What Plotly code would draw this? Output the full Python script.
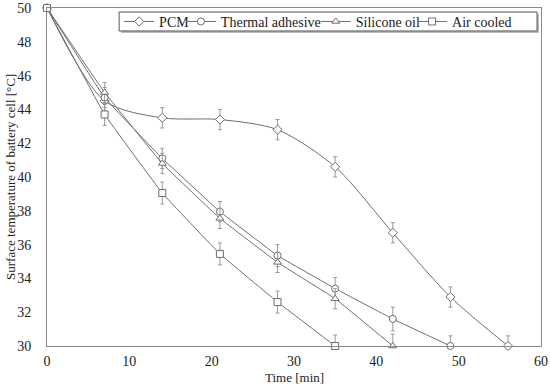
import plotly.graph_objects as go

time_min = [0, 7, 14, 21, 28, 35, 42, 49, 56]

pcm = [50, 44.5, 43.5, 43.4, 42.8, 40.6, 36.7, 32.9, 30.0]
thermal = [50, 44.7, 41.1, 37.95, 35.35, 33.4, 31.6, 30.0]
silicone = [50, 45.0, 40.8, 37.55, 34.95, 32.8, 30.0]
air = [50, 43.7, 39.05, 35.45, 32.6, 30.0]

pcm_err = [0, 0.6, 0.6, 0.6, 0.6, 0.6, 0.6, 0.6, 0.6]
pcm_err_minus = [0, 0.6, 0.6, 0.6, 0.6, 0.6, 0.6, 0.6, 0]
thermal_err = [0, 0.6, 0.6, 0.6, 0.65, 0.65, 0.7, 0.6]
thermal_err_minus = [0, 0.6, 0.6, 0.6, 0.65, 0.65, 0.7, 0]
silicone_err = [0, 0.6, 0.6, 0.6, 0.6, 0.6, 0.7]
silicone_err_minus = [0, 0.6, 0.6, 0.6, 0.6, 0.6, 0]
air_err = [0, 0.65, 0.65, 0.65, 0.65, 0.65]
air_err_minus = [0, 0.65, 0.65, 0.65, 0.65, 0]

series = [
    ("PCM", pcm, pcm_err, pcm_err_minus, "diamond", 7, 0.8, "legend", 0.146),
    ("Thermal adhesive", thermal, thermal_err, thermal_err_minus, "circle", 7, 0.2, "legend2", 0.271),
    ("Silicone oil", silicone, silicone_err, silicone_err_minus, "triangle-up", 7, 0.2, "legend3", 0.544),
    ("Air cooled", air, air_err, air_err_minus, "square", 7, 0.2, "legend4", 0.739),
]

LINE = "#6e6e6e"
FONT = "'Liberation Serif', 'Times New Roman', 'DejaVu Serif', serif"

fig = go.Figure()
legends = {}
for name, ys, e, em, sym, sz, sm, lg, lx in series:
    fig.add_trace(go.Scatter(
        x=time_min[:len(ys)], y=ys, name=name, mode="lines+markers",
        line=dict(color=LINE, width=1, shape="spline", smoothing=sm),
        marker=dict(symbol=sym, size=sz, color="white",
                    line=dict(color=LINE, width=1)),
        error_y=dict(type="data", array=e, arrayminus=em, symmetric=False,
                     color="#9a9a9a", thickness=1, width=2),
        cliponaxis=False, legend=lg, showlegend=True,
    ))
    legends[lg] = dict(x=lx, y=0.959, xanchor="left", yanchor="middle",
                       orientation="h", bgcolor="rgba(0,0,0,0)", borderwidth=0,
                       font=dict(size=14), itemwidth=30)

fig.update_layout(
    width=550, height=390, showlegend=True,
    margin=dict(l=47, r=9, t=8, b=44, autoexpand=False),
    paper_bgcolor="white", plot_bgcolor="white",
    font=dict(family=FONT, size=14, color="#222"),
    xaxis=dict(range=[0, 60], dtick=10, showgrid=False, zeroline=False,
               showline=True, linecolor="#8a8a8a", linewidth=1, mirror=True,
               ticks="", tickfont=dict(size=14), ticklabelstandoff=2,
               automargin=False),
    yaxis=dict(range=[30, 50], dtick=2, showgrid=False, zeroline=False,
               showline=True, linecolor="#8a8a8a", linewidth=1, mirror=True,
               ticks="", tickfont=dict(size=14), ticklabelstandoff=12,
               automargin=False),
    annotations=[
        dict(text="Time [min]", xref="paper", yref="paper", x=0.5, y=-0.094,
             xanchor="center", yanchor="middle", showarrow=False,
             font=dict(size=13)),
        dict(text="Surface temperature of battery cell [°C]", xref="paper",
             yref="paper", x=-0.075, y=0.5, xanchor="center", yanchor="middle",
             textangle=-90, showarrow=False, font=dict(size=13)),
    ],
    shapes=[
        dict(type="rect", xref="paper", yref="paper", x0=0.150, x1=0.996,
             y0=0.926, y1=0.982, fillcolor="#bdbdbd", line=dict(width=0),
             layer="above"),
        dict(type="rect", xref="paper", yref="paper", x0=0.146, x1=0.992,
             y0=0.932, y1=0.988, fillcolor="white",
             line=dict(color="#555", width=1), layer="above"),
    ],
    **legends,
)

fig.write_html("out.html", config={"displayModeBar": False},
               post_script="document.body.style.margin='0';")
